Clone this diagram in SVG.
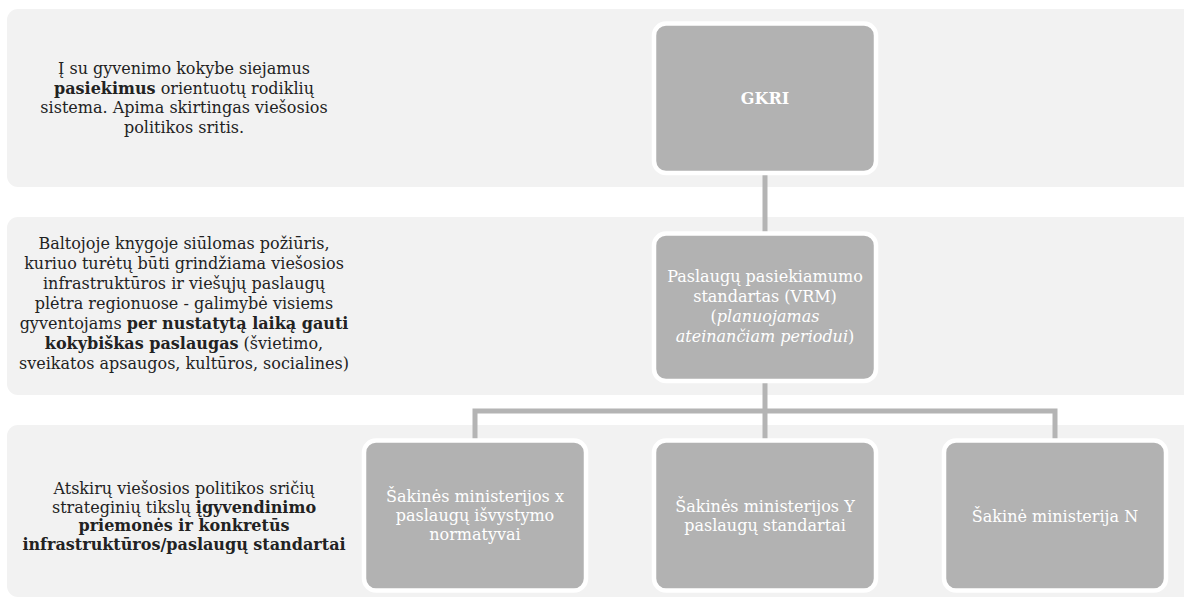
<svg xmlns="http://www.w3.org/2000/svg" width="1184" height="599" viewBox="0 0 1184 599">
<style>
.band{fill:#f2f2f2}
.box{fill:#b2b2b2;stroke:#ffffff;stroke-width:4.5}
.lt{font-family:"DejaVu Serif","Liberation Serif",serif;font-size:16px;fill:#222222;text-anchor:middle}
.bt{font-family:"DejaVu Serif","Liberation Serif",serif;font-size:16px;fill:#ffffff;text-anchor:middle}
.b{font-weight:bold}
.i{font-style:italic}
.conn{fill:none;stroke:#b4b4b4;stroke-width:5}
</style>
<rect class="band" x="7" y="9" width="1187" height="178" rx="11"/>
<rect class="band" x="7" y="217" width="1187" height="178" rx="11"/>
<rect class="band" x="7" y="425" width="1187" height="172" rx="11"/>
<g id="label1">
<text class="lt" x="184" y="74">Į su gyvenimo kokybe siejamus</text>
<text class="lt" x="184" y="93.5"><tspan class="b">pasiekimus</tspan> orientuotų rodiklių</text>
<text class="lt" x="184" y="113">sistema. Apima skirtingas viešosios</text>
<text class="lt" x="184" y="132.5">politikos sritis.</text>
</g>
<g id="label2">
<text class="lt" x="184" y="249">Baltojoje knygoje siūlomas požiūris,</text>
<text class="lt" x="184" y="269">kuriuo turėtų būti grindžiama viešosios</text>
<text class="lt" x="184" y="289">infrastruktūros ir viešųjų paslaugų</text>
<text class="lt" x="184" y="309">plėtra regionuose - galimybė visiems</text>
<text class="lt" x="184" y="329">gyventojams <tspan class="b">per nustatytą laiką gauti</tspan></text>
<text class="lt" x="184" y="349"><tspan class="b">kokybiškas paslaugas</tspan> (švietimo,</text>
<text class="lt" x="184" y="369">sveikatos apsaugos, kultūros, socialines)</text>
</g>
<g id="label3">
<text class="lt" x="184" y="494">Atskirų viešosios politikos sričių</text>
<text class="lt" x="184" y="512.5">strateginių tikslų <tspan class="b">įgyvendinimo</tspan></text>
<text class="lt" x="184" y="531" font-weight="bold">priemonės ir konkretūs</text>
<text class="lt" x="184" y="549.5" font-weight="bold">infrastruktūros/paslaugų standartai</text>
</g>
<g id="connectors">
<path class="conn" d="M765,173 V233"/>
<path class="conn" d="M765,381 V440"/>
<path class="conn" d="M475,440 V411 H1055 V440"/>
</g>
<g id="gkri">
<rect class="box" x="654" y="23.5" width="222" height="149.5" rx="12"/>
<text class="bt b" x="765" y="104" font-size="14">GKRI</text>
</g>
<g id="vrm">
<rect class="box" x="654" y="233.5" width="222" height="147.5" rx="12"/>
<text class="bt" x="765" y="282">Paslaugų pasiekiamumo</text>
<text class="bt" x="765" y="302">standartas (VRM)</text>
<text class="bt" x="765" y="322">(<tspan class="i">planuojamas</tspan></text>
<text class="bt" x="765" y="342"><tspan class="i">ateinančiam periodui</tspan>)</text>
</g>
<g id="minX">
<rect class="box" x="364" y="440.5" width="222" height="150" rx="12"/>
<text class="bt" x="475" y="502">Šakinės ministerijos x</text>
<text class="bt" x="475" y="521">paslaugų išvystymo</text>
<text class="bt" x="475" y="540">normatyvai</text>
</g>
<g id="minY">
<rect class="box" x="654" y="440.5" width="222" height="150" rx="12"/>
<text class="bt" x="765" y="512">Šakinės ministerijos Y</text>
<text class="bt" x="765" y="531">paslaugų standartai</text>
</g>
<g id="minN">
<rect class="box" x="944" y="440.5" width="222" height="150" rx="12"/>
<text class="bt" x="1055" y="522">Šakinė ministerija N</text>
</g>
</svg>
